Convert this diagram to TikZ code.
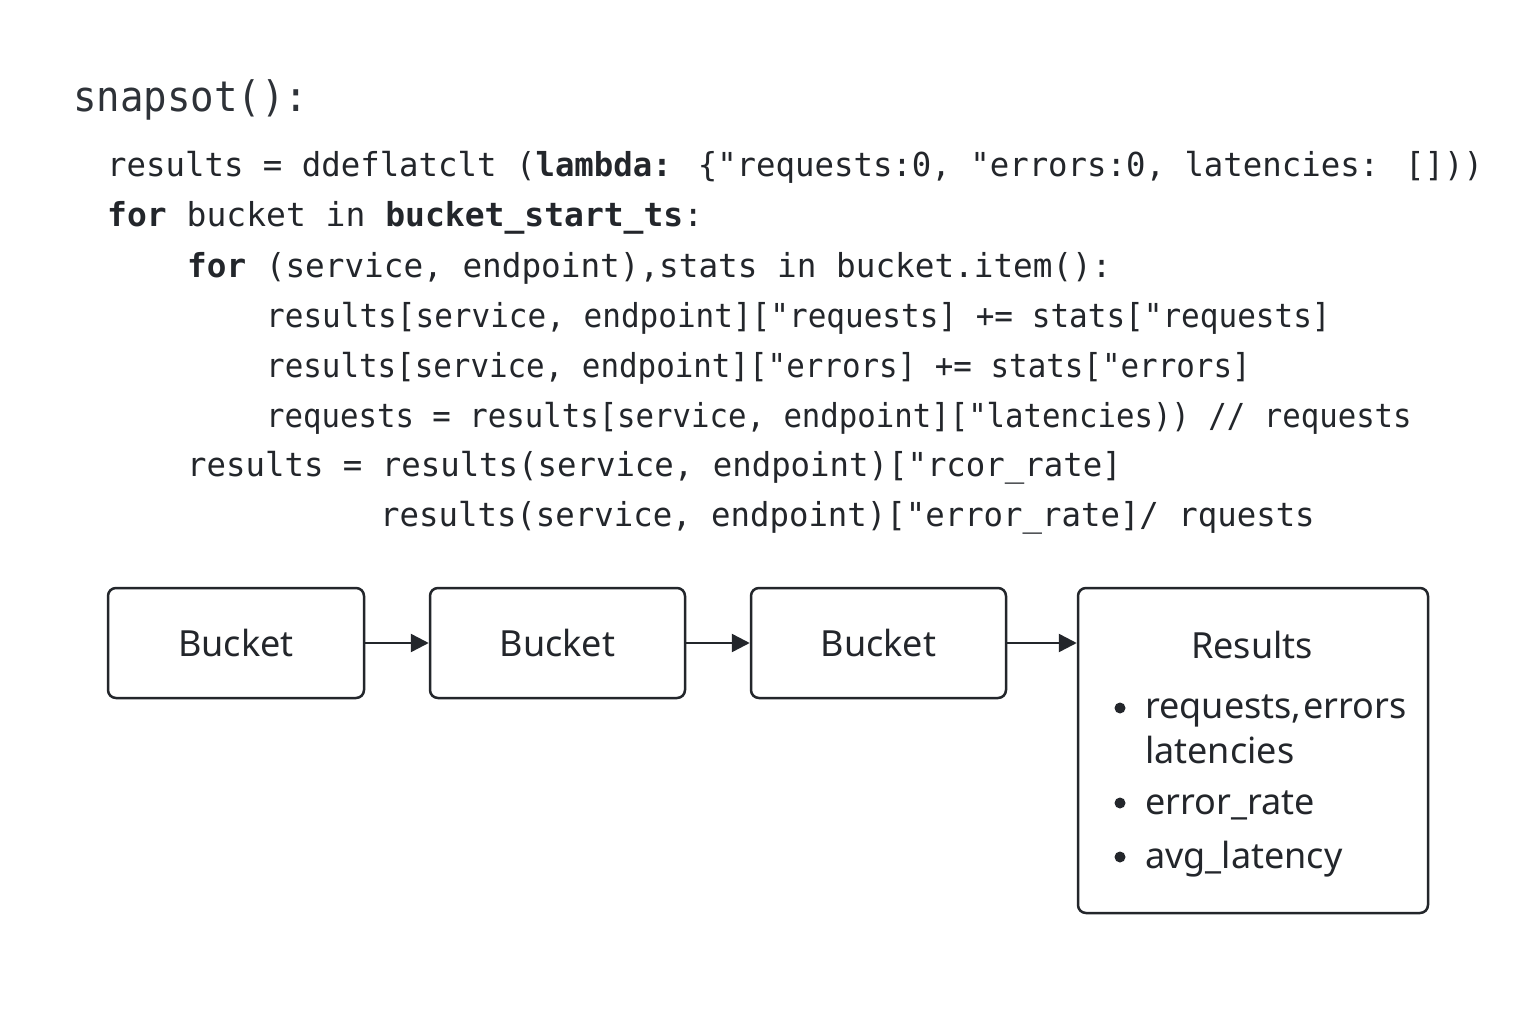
\documentclass[tikz,border=0pt]{standalone}
\usepackage{fontspec}
\usepackage{graphicx}
\usetikzlibrary{arrows.meta}
\setmainfont{Noto Sans}
\newfontfamily\codefont{DejaVu Sans Mono}
\newfontfamily\titlefont{DejaVu Sans Mono}[FakeStretch=0.93]
\definecolor{ink}{HTML}{23262B}
\definecolor{titleink}{HTML}{2E3238}
\newcommand\codesq[2]{\scalebox{#1}[1]{#2}}
\tikzset{
  codeline/.style={anchor=base west, inner sep=0pt, text=ink, font=\codefont\fontsize{33}{40}\selectfont},
  titleline/.style={anchor=base west, inner sep=0pt, text=titleink, font=\titlefont\fontsize{42}{50}\selectfont},
  box/.style={draw=ink, line width=2.5pt, rounded corners=8pt, fill=white, inner sep=0pt,
    font=\fontsize{36}{42}\selectfont, text=ink},
  lbl/.style={anchor=base west, inner sep=0pt, text=ink, font=\fontsize{36}{42}\selectfont},
  dot/.style={circle, fill=ink, inner sep=0pt, minimum size=11pt},
  arr/.style={draw=ink, line width=2.5pt, -{Triangle[length=18pt,width=18pt]}}
}
\begin{document}
\begin{tikzpicture}[x=1pt,y=-1pt]
\useasboundingbox[fill=white] (0,0) rectangle (1536,1024);
% code
\node[titleline] (t0) at (73,112) {snapsot():};
\node[codeline] (c1) at (107,177) {\codesq{0.98}{results = ddeflatclt (\textbf{lambda:} \{"requests:0, "errors:0, latencies: []))}};
\node[codeline] (c2) at (107,227) {\codesq{1.0}{\textbf{for} bucket in \textbf{bucket\_start\_ts}:}};
\node[codeline] (c3) at (187,277) {\codesq{0.99}{\textbf{for} (service, endpoint),stats in bucket.item():}};
\node[codeline] (c4) at (266,327) {\codesq{0.94}{results[service, endpoint]["requests] += stats["requests]}};
\node[codeline] (c5) at (266,377) {\codesq{0.935}{results[service, endpoint]["errors] += stats["errors]}};
\node[codeline] (c6) at (266,427) {\codesq{0.93}{requests = results[service, endpoint]["latencies)) // requests}};
\node[codeline] (c7) at (187,476) {\codesq{0.98}{results = results(service, endpoint)["rcor\_rate]}};
\node[codeline] (c8) at (380,526) {\codesq{0.98}{results(service, endpoint)["error\_rate]/ rquests}};
% boxes
\node[box, minimum width=256pt, minimum height=110pt] (b1) at (236,643) {Bucket};
\node[box, minimum width=255pt, minimum height=110pt] (b2) at (557.5,643) {Bucket};
\node[box, minimum width=255pt, minimum height=110pt] (b3) at (878.5,643) {Bucket};
\node[box, minimum width=350pt, minimum height=325pt] (res) at (1253,750.5) {};
\draw[arr] (b1.east) -- (b2.west);
\draw[arr] (b2.east) -- (b3.west);
\draw[arr] (b3.east) -- (b3.east -| res.west);
% results content
\node[anchor=base, inner sep=0pt, text=ink, font=\fontsize{36}{42}\selectfont] (rt) at (1252,658) {Results};
\node[dot] (d1) at (1120,708) {};
\node[dot] (d2) at (1120,803) {};
\node[dot] (d3) at (1120,857) {};
\node[lbl] (l1) at (1145,718) {requests,\hspace{2pt}errors};
\node[lbl] (l2) at (1145,763) {latencies};
\node[lbl] (l3) at (1145,814) {error\_rate};
\node[lbl] (l4) at (1145,868) {avg\_latency};
\end{tikzpicture}
\end{document}
